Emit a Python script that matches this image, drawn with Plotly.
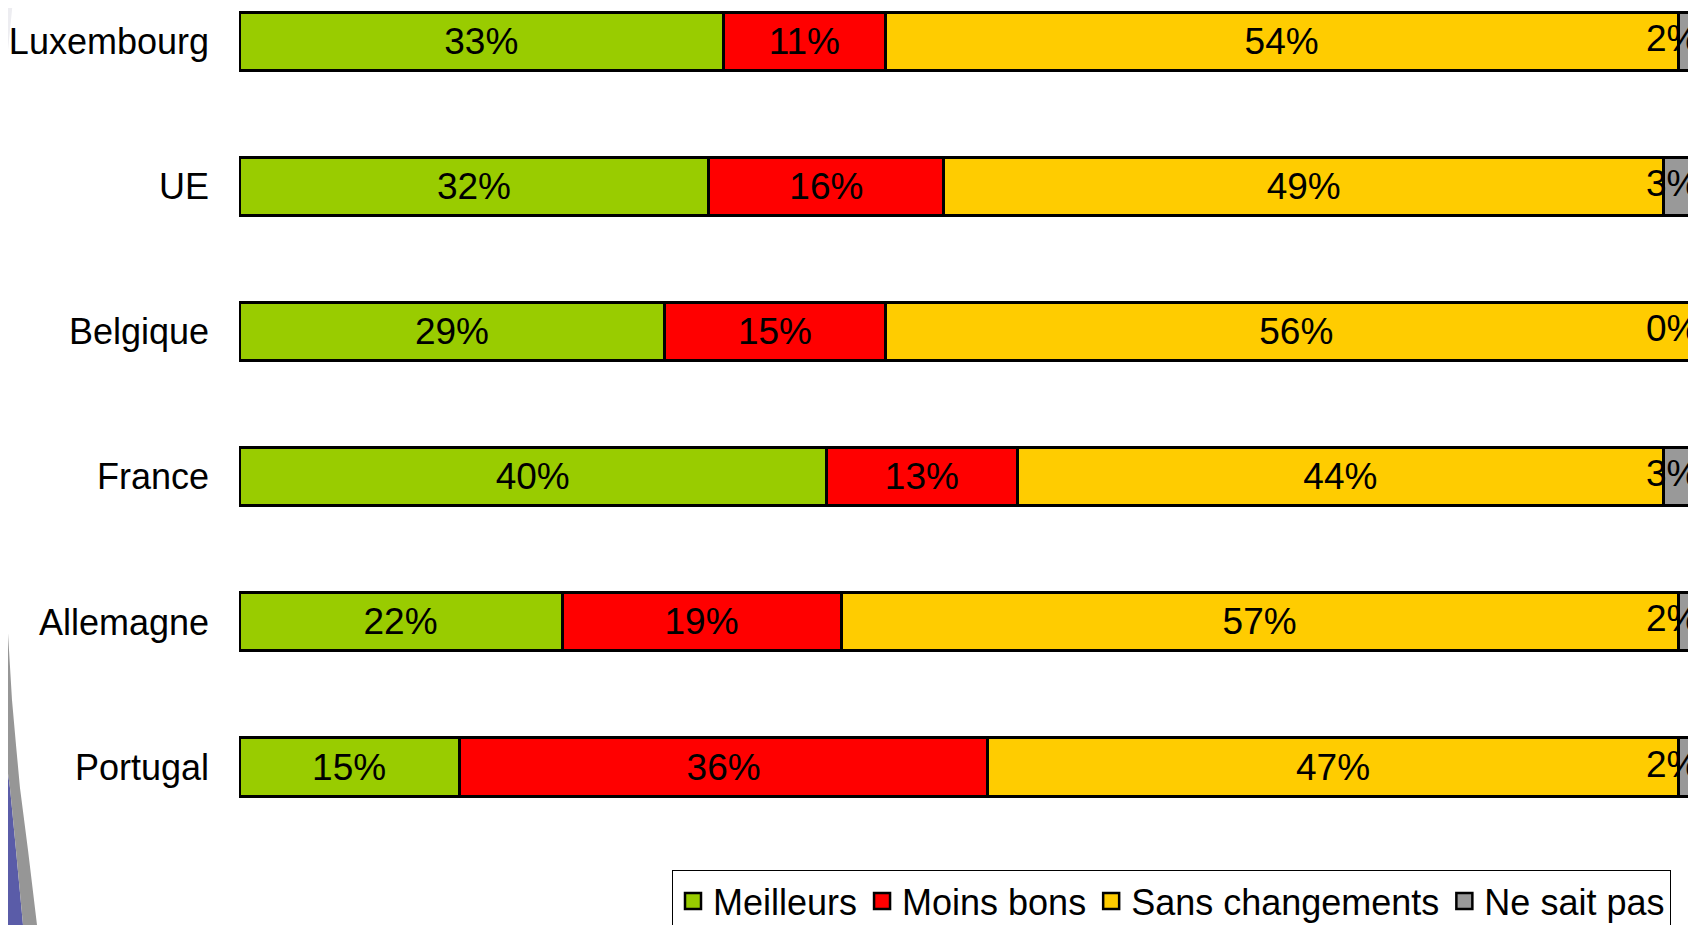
import plotly.graph_objects as go

countries = ["Luxembourg", "UE", "Belgique", "France", "Allemagne", "Portugal"]
meilleurs = [33, 32, 29, 40, 22, 15]
moins_bons = [11, 16, 15, 13, 19, 36]
sans_changements = [54, 49, 56, 44, 57, 47]
ne_sait_pas = [2, 3, 0, 3, 2, 2]

series_names = ["Meilleurs", "Moins bons", "Sans changements", "Ne sait pas"]
series_values = [meilleurs, moins_bons, sans_changements, ne_sait_pas]
series_colors = ["#99cc00", "#ff0000", "#ffcc00", "#999999"]

FONT = "Liberation Sans, Arial, sans-serif"

W, H = 1696, 925
OFF = 8                     # page body margin offsets the figure
L_MARGIN = 239 - OFF        # figure px
PLOT_BOTTOM = 870 - OFF     # figure px
UNIT_PX = 1468.5            # px per 100 %
CAT_PX = 145.1              # px per category
TOP_VAL = -(41.5 - OFF) / CAT_PX
BOT_VAL = TOP_VAL + PLOT_BOTTOM / CAT_PX
X_MAX = (W - L_MARGIN) / UNIT_PX * 100

fig = go.Figure()
for i, (name, vals, col) in enumerate(zip(series_names, series_values, series_colors)):
    last = i == len(series_names) - 1
    fig.add_trace(go.Bar(
        y=countries, x=vals, name=name, orientation="h",
        marker=dict(color=col, line=dict(color="black", width=3)),
        width=0.40, showlegend=False,
        text=None if last else [f"{v}%" for v in vals],
        textposition="inside", insidetextanchor="middle",
        constraintext="none",
        textfont=dict(family=FONT, size=37, color="black"),
        hoverinfo="skip",
    ))

# legend entries with larger square symbols
for name, col in zip(series_names, series_colors):
    fig.add_trace(go.Scatter(
        x=[None], y=[None], mode="markers", name=name,
        marker=dict(symbol="square", size=16, color=col, line=dict(color="black", width=2.5)),
        hoverinfo="skip",
    ))

# labels of the last series, kept inside the visible chart area
for c, v in zip(countries, ne_sait_pas):
    fig.add_annotation(x=1, xref="paper", y=c, yref="y", text=f"{v}%",
                       xanchor="right", showarrow=False, xshift=-3, yshift=3,
                       font=dict(family=FONT, size=37, color="black"))

def px2paper(wx, wy):
    fx, fy = wx - OFF, wy - OFF
    return (fx - L_MARGIN) / (W - L_MARGIN), (PLOT_BOTTOM - fy) / PLOT_BOTTOM

def path(points):
    s = ""
    for k, (px, py) in enumerate(points):
        x, y = px2paper(px, py)
        s += ("M" if k == 0 else "L") + f"{x:.5f},{y:.5f} "
    return s + "Z"

# decorative slide background at the left (window px)
light = [(-10, -10), (13, -10), (13, 0), (8, 50), (3, 100), (0, 130), (-10, 130)]
blue = [(-10, 700), (0, 715), (4, 745), (10, 788), (16, 850), (23, 925), (24, 940), (-10, 940)]
band = [(-2, 540), (3, 600), (0, 715), (4, 745), (10, 788), (16, 850), (23, 925), (24, 940),
        (38, 940), (37, 925), (28, 850), (20, 788), (16, 745), (12, 700), (6, 600), (2, 540)]
fig.add_shape(type="path", path=path(light), xref="paper", yref="paper",
              fillcolor="#ededf1", line=dict(width=0), layer="below")
fig.add_shape(type="path", path=path(blue), xref="paper", yref="paper",
              fillcolor="#5a5ca8", line=dict(width=0), layer="below")
fig.add_shape(type="path", path=path(band), xref="paper", yref="paper",
              fillcolor="#969696", line=dict(width=0), layer="below")

fig.update_layout(
    width=W, height=H, barmode="stack",
    margin=dict(l=L_MARGIN, r=0, t=0, b=H - PLOT_BOTTOM, pad=0, autoexpand=False),
    paper_bgcolor="white", plot_bgcolor="white",
    font=dict(family=FONT, size=36, color="black"),
    showlegend=True,
    legend=dict(orientation="h", xref="container", yref="container",
                x=(672 - OFF) / W, xanchor="left", y=(H - PLOT_BOTTOM) / H, yanchor="top",
                bordercolor="black", borderwidth=1, bgcolor="white",
                font=dict(family=FONT, size=36, color="black"),
                itemwidth=30, traceorder="normal", tracegroupgap=0),
    xaxis=dict(range=[0, X_MAX], showgrid=False, zeroline=False, showticklabels=False,
               showline=False, fixedrange=True, automargin=False),
    yaxis=dict(categoryorder="array", categoryarray=countries,
               range=[BOT_VAL, TOP_VAL], showgrid=False, zeroline=False, showline=False,
               ticks="", ticklabelstandoff=29, automargin=False,
               tickfont=dict(family=FONT, size=36, color="black")),
)

fig.write_html("out.html")
